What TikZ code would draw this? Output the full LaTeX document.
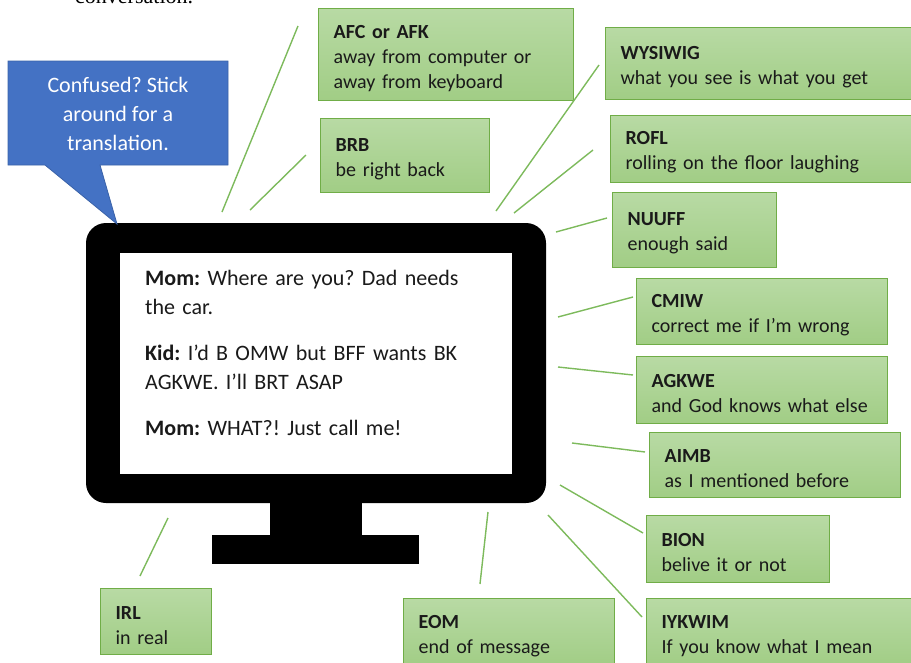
\documentclass[tikz,border=0pt]{standalone}
\usepackage{fontspec}
\setmainfont{Carlito}
\newfontfamily\cutserif{Liberation Serif}
\frenchspacing
\usetikzlibrary{positioning}
\definecolor{boxline}{HTML}{70AD47}
\definecolor{boxtop}{HTML}{B8DAA4}
\definecolor{boxbot}{HTML}{A1CD85}
\definecolor{linkc}{HTML}{7DBA5C}
\definecolor{calfill}{HTML}{4472C4}
\definecolor{calline}{HTML}{3A62A8}
\definecolor{ink}{HTML}{1A1A1A}
\tikzset{
  abbr/.style={draw=boxline,line width=1.3pt,top color=boxtop,bottom color=boxbot,anchor=north west,
    align=left,inner xsep=15pt,inner ysep=0pt,text=ink,font=\fontsize{20}{25}\selectfont,
    execute at begin node={\rule{0pt}{20pt}}},
  link/.style={draw=linkc,line width=1.4pt},
  screen/.style={fill=white,draw=none},
  chat/.style={anchor=north west,inner sep=0pt,align=left,text width=360pt,text=ink,font=\fontsize{22}{29}\selectfont},
  callout/.style={fill=calfill,draw=calline,line width=.8pt},
}
\begin{document}
\begin{tikzpicture}[x=1pt,y=-1pt]
  \useasboundingbox (0,0) rectangle (911,662);
  \node[anchor=base west,inner sep=0pt,font=\cutserif\fontsize{22}{26}\selectfont] (cut) at (75,3) {conversation.};

  % monitor
  \fill[rounded corners=20pt] (86,223) rectangle (546,503);
  \fill (270,500) rectangle (362,536);
  \fill (212,535) rectangle (419,564);
  \fill[screen] (120,253) rectangle (512,474);
  \node[chat] (msg) at (145,270)
    {\textbf{Mom:} Where are you? Dad needs\\the car.\\[17pt]
     \textbf{Kid:} I’d B OMW but BFF wants BK\\AGKWE. I’ll BRT ASAP\\[17pt]
     \textbf{Mom:} WHAT?! Just call me!};

  % callout
  \draw[callout] (8,61) -- (228,61) -- (228,165) -- (100,165) -- (117,224) -- (45,165) -- (8,165) -- cycle;
  \node[text=white,align=center,font=\fontsize{22}{29}\selectfont] (hint) at (118,114)
    {Confused? Stick\\around for a\\translation.};

  % abbreviation boxes
  \node[abbr,text width=225pt,minimum height=92pt] (afc) at (318,8) {\textbf{AFC or AFK}\\away from computer or\\away from keyboard};
  \node[abbr,text width=139pt,minimum height=74pt] (brb) at (320,118) {\textbf{BRB}\\be right back};
  \node[abbr,text width=290pt,minimum height=72pt] (wysiwig) at (605,27) {\textbf{WYSIWIG}\\what you see is what you get};
  \node[abbr,text width=285pt,minimum height=67pt] (rofl) at (610,115) {\textbf{ROFL}\\rolling on the floor laughing};
  \node[abbr,text width=134pt,minimum height=75pt] (nuuff) at (612,192) {\textbf{NUUFF}\\enough said};
  \node[abbr,text width=221pt,minimum height=66pt] (cmiw) at (636,278) {\textbf{CMIW}\\correct me if I’m wrong};
  \node[abbr,text width=221pt,minimum height=67pt] (agkwe) at (636,356) {\textbf{AGKWE}\\and God knows what else};
  \node[abbr,text width=221pt,minimum height=65pt] (aimb) at (649,432) {\textbf{AIMB}\\as I mentioned before};
  \node[abbr,text width=153pt,minimum height=67pt] (bion) at (646,515) {\textbf{BION}\\belive it or not};
  \node[abbr,text width=250pt,minimum height=68pt] (iykwim) at (646,598) {\textbf{IYKWIM}\\If you know what I mean};
  \node[abbr,text width=181pt,minimum height=68pt] (eom) at (403,598) {\textbf{EOM}\\end of message};
  \node[abbr,text width=81pt,minimum height=66pt] (irl) at (100,588) {\textbf{IRL}\\in real};

  % connectors
  \foreach \n/\p/\q in {afc/{222,212}/{298,26}, brb/{250,210}/{306,155}, wysiwig/{496,211}/{599,65},
      rofl/{514,213}/{593,150}, nuuff/{556,232}/{607,218}, cmiw/{558,317}/{633,297}, agkwe/{558,367}/{633,375},
      aimb/{572,443}/{645,452}, bion/{560,485}/{643,533}, iykwim/{548,515}/{642,617}, eom/{488,512}/{480,584},
      irl/{168,518}/{140,576}}{
    \coordinate (\n-a) at (\p);
    \coordinate (\n-b) at (\q);
    \draw[link] (\n-a) -- (\n-b);
  }
\end{tikzpicture}
\end{document}
